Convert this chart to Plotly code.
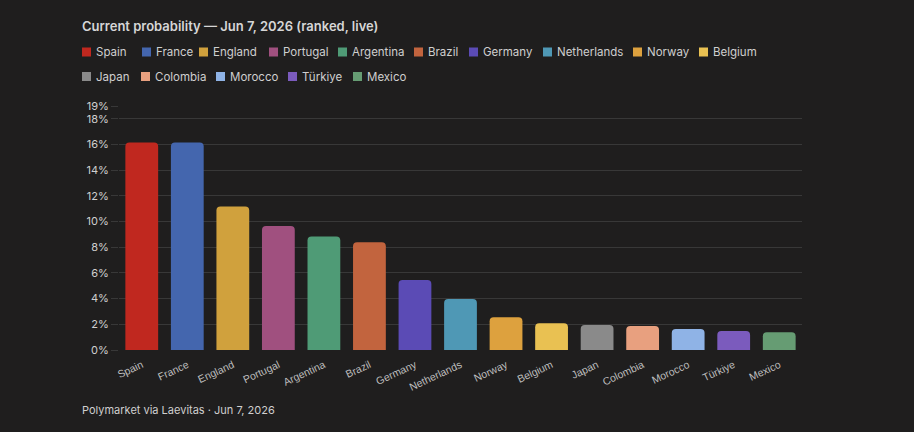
import plotly.graph_objects as go

countries = ["Spain", "France", "England", "Portugal", "Argentina", "Brazil", "Germany",
             "Netherlands", "Norway", "Belgium", "Japan", "Colombia", "Morocco", "Türkiye", "Mexico"]
probabilities = [16.16, 16.15, 11.17, 9.66, 8.83, 8.39, 5.46, 3.97, 2.55, 2.08, 1.95, 1.87, 1.64, 1.48, 1.38]
colors = ["#c0281f", "#4466ae", "#d0a13d", "#a0507f", "#4f9b76", "#c2643e", "#5b4bb5",
          "#4f98b5", "#dda13e", "#e9c152", "#8a8a8a", "#e8a07f", "#8fb3e6", "#7b5bbd", "#669c73"]
y_tickvals = [0, 2, 4, 6, 8, 10, 12, 14, 16, 18, 19]
y_ticktext = [f"{v}%" for v in y_tickvals]

title_text = "Current probability — Jun 7, 2026 (ranked, live)"
footer_text = "Polymarket via Laevitas · Jun 7, 2026"

# legend layout: pixel x of each swatch, row of each entry, row centre y (pixels)
legend_swatch_x = [82, 142, 199, 269, 338, 414, 469, 543, 633, 699, 82, 141, 216, 288, 353]
legend_row = [0] * 10 + [1] * 5
legend_row_y = [52, 76.5]
SWATCH = 9
TEXT_OFFSET = 14

BG = "#1f1e1e"
GRID = "#383838"
TXT = "#cfcfcf"
W, H = 914, 432
ML, MR, MT, MB = 119, 112, 106, 82
PW, PH = W - ML - MR, H - MT - MB


def px_to_paper_x(px):
    return (px - ML) / PW


def px_to_paper_y(py):
    return (H - MB - py) / PH


fig = go.Figure()
shapes, annotations = [], []
for i, (c, p, col) in enumerate(zip(countries, probabilities, colors)):
    fig.add_trace(go.Bar(
        x=[c], y=[p], name=c, marker=dict(color=col, line=dict(width=0)),
        hovertemplate="%{x}: %{y:.2f}%<extra></extra>",
    ))
    sx = legend_swatch_x[i]
    cy = legend_row_y[legend_row[i]]
    shapes.append(dict(
        type="rect", xref="paper", yref="paper", layer="above",
        x0=px_to_paper_x(sx), x1=px_to_paper_x(sx + SWATCH),
        y0=px_to_paper_y(cy + SWATCH / 2), y1=px_to_paper_y(cy - SWATCH / 2),
        fillcolor=col, line=dict(width=0),
    ))
    annotations.append(dict(
        text=c, xref="paper", yref="paper", x=0, y=1, showarrow=False,
        xanchor="left", yanchor="middle",
        xshift=sx + TEXT_OFFSET - ML - 2, yshift=MT - cy,
        font=dict(family="Inter", size=11.5, color=TXT),
    ))

annotations.append(dict(
    text=footer_text, xref="paper", yref="paper", x=0, y=0, showarrow=False,
    xanchor="left", yanchor="middle", xshift=82 - ML - 2, yshift=-(410 - (H - MB)),
    font=dict(family="Inter", size=11, color=TXT),
))

fig.update_layout(
    width=W, height=H,
    paper_bgcolor=BG, plot_bgcolor=BG,
    margin=dict(l=ML, r=MR, t=MT, b=MB),
    barmode="relative", bargap=0.28, barcornerradius=4,
    title=dict(text=title_text, xref="container", yref="container", x=82 / W, xanchor="left",
               y=1 - 26 / H, yanchor="middle",
               font=dict(family="Inter", size=13, color="#d6d6d6", weight=600)),
    showlegend=False,
    xaxis=dict(tickangle=-25, tickfont=dict(family="Liberation Sans", size=10.5, color="#bdbdbd"),
               showgrid=False, zeroline=False, showline=False, ticks="", fixedrange=True,
               ticklabelstandoff=6),
    yaxis=dict(range=[0, 19], tickvals=y_tickvals, ticktext=y_ticktext,
               tickfont=dict(family="Inter", size=11, color=TXT),
               showgrid=True, gridcolor=GRID, gridwidth=1, zeroline=False, showline=False,
               ticks="outside", ticklen=7, tickcolor=GRID, fixedrange=True),
    shapes=shapes,
    annotations=annotations,
)

fig.write_html("out.html")
